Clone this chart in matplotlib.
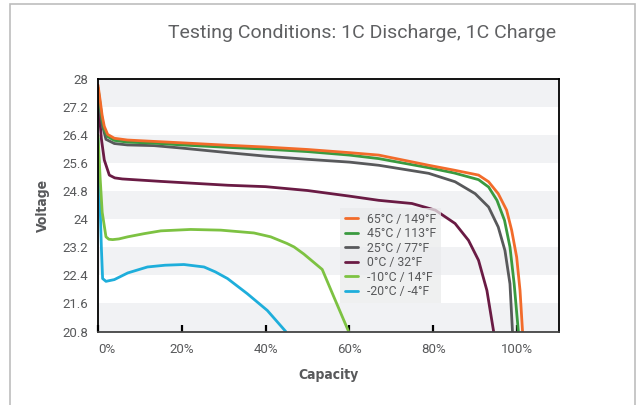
import matplotlib.pyplot as plt
from matplotlib.patches import Rectangle

# capacity (%) / voltage (V)
cap_65 = [0, 0.5, 1.0, 1.5, 2.3, 3.9, 7, 13.4, 20, 31, 40, 50, 60, 67, 78.9, 85, 90.8, 93.2, 95.5, 97.5, 98.7, 99.9, 100.7, 101.3]
v_65 = [27.83, 27.4, 26.95, 26.65, 26.42, 26.31, 26.26, 26.22, 26.18, 26.11, 26.06, 25.99, 25.9, 25.83, 25.54, 25.4, 25.26, 25.07, 24.73, 24.26, 23.69, 22.92, 21.97, 20.8]

cap_45 = [0, 0.5, 1.0, 1.5, 2.3, 3.9, 7, 13.4, 20, 31, 40, 50, 60, 67, 78.9, 85, 90.8, 93.2, 95.2, 97, 98.3, 99.3, 100.3]
v_45 = [27.75, 27.3, 26.85, 26.55, 26.36, 26.25, 26.2, 26.17, 26.12, 26.05, 26.0, 25.93, 25.83, 25.73, 25.47, 25.32, 25.13, 24.92, 24.54, 23.97, 23.21, 22.16, 20.8]

cap_25 = [0, 0.5, 1.0, 1.9, 3.9, 7, 13.4, 20, 31, 40, 50, 60, 67, 78.9, 85.2, 90, 93.2, 95.5, 97.1, 98.3, 98.9]
v_25 = [27.6, 27.1, 26.7, 26.28, 26.16, 26.12, 26.1, 26.03, 25.9, 25.8, 25.71, 25.63, 25.54, 25.31, 25.07, 24.73, 24.35, 23.78, 23.11, 22.16, 20.8]

cap_0 = [0, 0.4, 0.8, 1.5, 2.7, 4, 5.8, 15, 31, 40, 50, 60, 67, 74.9, 80.5, 85.2, 88.4, 90.8, 92.8, 94.4]
v_0 = [27.3, 26.9, 26.3, 25.69, 25.26, 25.18, 25.15, 25.08, 24.97, 24.93, 24.82, 24.66, 24.54, 24.45, 24.26, 23.88, 23.4, 22.83, 21.97, 20.8]

cap_m10 = [0, 0.5, 1.0, 1.9, 2.6, 3.5, 5, 7.1, 11, 15, 22.1, 29.3, 37.2, 41.2, 45.1, 46.8, 49.1, 50.7, 53.5, 56.3, 59.8]
v_m10 = [26.4, 25.2, 24.2, 23.5, 23.43, 23.42, 23.44, 23.5, 23.59, 23.67, 23.71, 23.69, 23.61, 23.5, 23.31, 23.21, 23.01, 22.85, 22.57, 21.78, 20.8]

cap_m20 = [0, 0.4, 0.8, 1.1, 1.9, 3.9, 7.1, 11.8, 16, 20.5, 25.3, 28, 30.9, 35.6, 40.4, 44.8]
v_m20 = [26.3, 24.8, 23.2, 22.31, 22.23, 22.28, 22.47, 22.64, 22.69, 22.71, 22.64, 22.5, 22.31, 21.88, 21.4, 20.8]

labels = ["65°C / 149°F", "45°C / 113°F", "25°C / 77°F", "0°C / 32°F", "-10°C / 14°F", "-20°C / -4°F"]
colors = ["#F26B2A", "#3A9A3F", "#58595B", "#6A1B44", "#7DC242", "#1EAEDB"]

y_ticks = [20.8, 21.6, 22.4, 23.2, 24, 24.8, 25.6, 26.4, 27.2, 28]
x_ticks = [0, 20, 40, 60, 80, 100]

plt.rcParams['font.family'] = ['Roboto', 'DejaVu Sans']

fig = plt.figure(figsize=(6.39, 4.05), dpi=100)
# light border around the figure
fig.patches.append(Rectangle((10 / 639, -0.05), 625 / 639, 1.05 - 4 / 405, transform=fig.transFigure,
                             fill=False, edgecolor="#BDBDBD", lw=1.2))
ax = fig.add_axes([98 / 639, 1 - 331.5 / 405, (559 - 98) / 639, (331.5 - 79) / 405])

# alternating grey bands
for i in range(0, len(y_ticks) - 1, 2):
    ax.axhspan(y_ticks[i], y_ticks[i + 1], color="#F1F2F4", lw=0, zorder=0)

series = [(cap_65, v_65), (cap_45, v_45), (cap_25, v_25), (cap_0, v_0), (cap_m10, v_m10), (cap_m20, v_m20)]
# draw coldest first so the hot curves are on top
for (c, v), lab, col in reversed(list(zip(series, labels, colors))):
    ax.plot(c, v, color=col, lw=2.0, label=lab, solid_joinstyle="round", solid_capstyle="round")

ax.set_xlim(0, 110)
ax.set_ylim(20.8, 28)
ax.set_yticks(y_ticks)
ax.set_yticklabels([f"{t:g}" for t in y_ticks])
ax.set_xticks(x_ticks)
ax.set_xticklabels([f"{t}%" for t in x_ticks])
ax.get_xticklabels()[0].set_ha("left")
ax.tick_params(axis="y", length=0, labelsize=9.5, labelcolor="#58595B", pad=7)
ax.tick_params(axis="x", direction="in", length=5, width=1.6, labelsize=9.5, labelcolor="#58595B", pad=8)
for s in ax.spines.values():
    s.set_color("black")
    s.set_linewidth(1.3)
ax.spines["bottom"].set_color("#444444")

ax.set_xlabel("Capacity", fontsize=10, fontweight="bold", color="#58595B",
              family="DejaVu Sans", fontstretch="condensed", labelpad=9)
ax.set_ylabel("Voltage", fontsize=10, fontweight="bold", color="#58595B",
              family="DejaVu Sans", fontstretch="condensed", labelpad=9)

fig.text(556 / 639, 1 - 33 / 405, "Testing Conditions: 1C Discharge, 1C Charge", ha="right", va="center",
         fontsize=14, color="#5F6062")

handles, labs = ax.get_legend_handles_labels()
leg = ax.legend(handles[::-1], labs[::-1], loc="lower left", bbox_to_anchor=(0.525, 0.113), fontsize=8.8,
                frameon=True, fancybox=False, handlelength=1.1, handletextpad=0.7, labelspacing=0.12,
                borderpad=0.4, borderaxespad=0, labelcolor="#58595B")
leg.get_frame().set_facecolor("#EAEBEC")
leg.get_frame().set_edgecolor("none")
leg.get_frame().set_alpha(0.75)

fig.savefig("out.png", dpi=100)
